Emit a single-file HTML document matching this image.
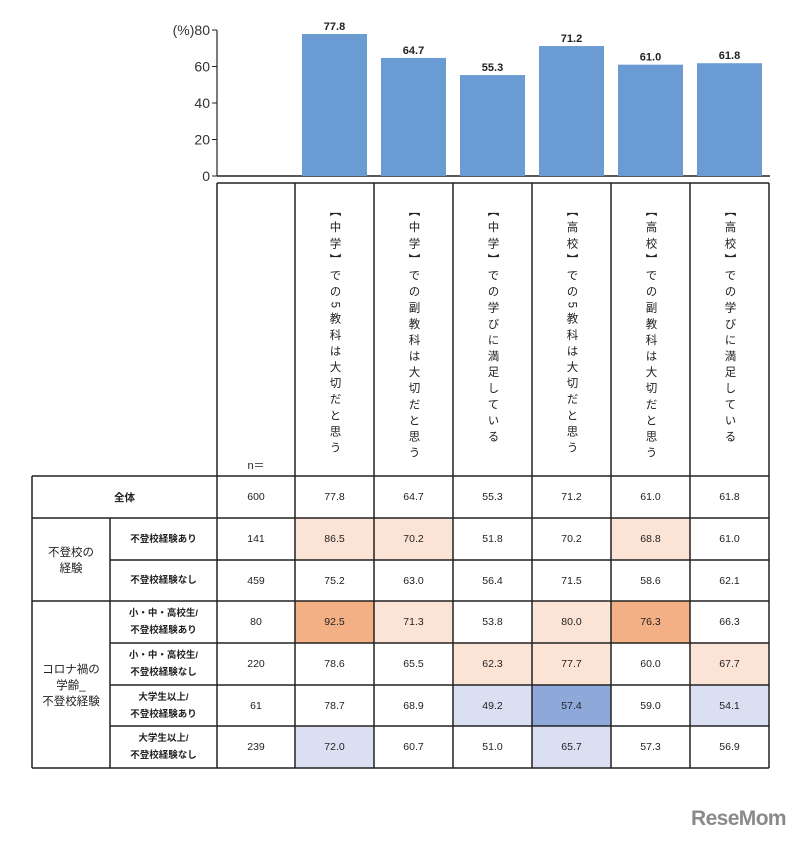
<!DOCTYPE html>
<html><head><meta charset="utf-8">
<style>
body{margin:0;background:#fff;width:800px;height:843px;position:relative;overflow:hidden;font-family:"Liberation Sans","Noto Sans CJK JP",sans-serif;color:#222}
.abs{position:absolute}
.cell{position:absolute;display:flex;align-items:center;justify-content:center;text-align:center;font-size:10.5px;box-sizing:border-box}
.vt{position:absolute;writing-mode:vertical-rl;font-size:11.5px;letter-spacing:4.6px;top:205px;line-height:1}
</style></head><body>
<svg id="chart" class="abs" style="left:0;top:0" width="800" height="200"></svg>
<div id="table" class="abs" style="left:0;top:0;width:800px;height:843px"></div>
<svg class="abs" style="left:0;top:0;pointer-events:none" width="800" height="843" id="grid"></svg>
<div class="abs" style="left:691px;top:807px;font-size:21px;font-weight:bold;color:#8a8a8a;letter-spacing:-0.6px">ReseMom</div>
<script>
const categories=["【中学】での5教科は大切だと思う","【中学】での副教科は大切だと思う","【中学】での学びに満足している","【高校】での5教科は大切だと思う","【高校】での副教科は大切だと思う","【高校】での学びに満足している"];
const barValues=[77.8,64.7,55.3,71.2,61.0,61.8];
const yTicks=[0,20,40,60,80];
const rowLabels=["不登校経験あり","不登校経験なし","小・中・高校生/<br>不登校経験あり","小・中・高校生/<br>不登校経験なし","大学生以上/<br>不登校経験あり","大学生以上/<br>不登校経験なし"];
const nValues=[600,141,459,80,220,61,239];
const tableValues=[
[77.8,64.7,55.3,71.2,61.0,61.8],
[86.5,70.2,51.8,70.2,68.8,61.0],
[75.2,63.0,56.4,71.5,58.6,62.1],
[92.5,71.3,53.8,80.0,76.3,66.3],
[78.6,65.5,62.3,77.7,60.0,67.7],
[78.7,68.9,49.2,57.4,59.0,54.1],
[72.0,60.7,51.0,65.7,57.3,56.9]];
const heat=[
"","","","","","",
"lo","lo","","","lo","",
"","","","","","",
"o","lo","","lo","o","",
"","","lo","lo","","lo",
"","","lb","b","","lb",
"lb","","","lb","",""];
const colors={lo:"#fbe3d6",o:"#f3b084",lb:"#dae0f1",b:"#8ea8da"};
const NS="http://www.w3.org/2000/svg";
const colX=[295,374,453,532,611,690,769];
const y0=176, yScale=146/80;
const yPos=v=>y0-v*yScale;
const svg=document.getElementById('chart');
function mk(tag,attrs,parent){const e=document.createElementNS(NS,tag);for(const k in attrs)e.setAttribute(k,attrs[k]);parent.appendChild(e);return e;}
mk('line',{x1:217,y1:y0,x2:770,y2:y0,stroke:'#222','stroke-width':1.5},svg);
mk('line',{x1:217,y1:y0,x2:217,y2:yPos(80),stroke:'#222','stroke-width':1.2},svg);
yTicks.forEach(t=>{
  const l=mk('line',{x1:212,y1:yPos(t),x2:217,y2:yPos(t),stroke:'#222'},svg);
  
  
  const tx=mk('text',{x:210,y:yPos(t)+5,'text-anchor':'end','font-size':14,fill:'#333'},svg);
  tx.textContent=(t===80?'(%)':'')+t;
  
  
});
barValues.forEach((v,i)=>{
  const x=colX[i]+7, w=65;
  const r=mk('rect',{x:x,y:yPos(v),width:w,height:y0-yPos(v),fill:'#6a9bd2'},svg);
  
  
  const t=mk('text',{x:x+w/2,y:yPos(v)-4,'text-anchor':'middle','font-size':11,fill:'#222','font-weight':'bold'},svg);
  t.textContent=v.toFixed(1);
  
  
});
const tb=document.getElementById('table');
const rowY=[476,518,560,601,643,685,726,768];
function cell(x,y,w,h,html,name,bg){const d=document.createElement('div');d.className='cell';d.style.cssText=`left:${x}px;top:${y}px;width:${w}px;height:${h}px;`+(bg?`background:${bg};`:'');d.innerHTML=html;tb.appendChild(d);return d;}
categories.forEach((c,i)=>{
  const d=document.createElement('div');d.className='vt';d.style.left=(colX[i]+33)+'px';d.textContent=c;
  
  
  tb.appendChild(d);
});
const nh=cell(217,455,78,20,'n＝','n-header');nh.style.fontSize='11px';
cell(32,rowY[0],185,rowY[1]-rowY[0],'<b>全体</b>','row-label-total');
cell(32,rowY[1],78,rowY[3]-rowY[1],'不登校の<br>経験','group-label').style.fontSize='11.5px';
cell(32,rowY[3],78,rowY[7]-rowY[3],'コロナ禍の<br>学齢_<br>不登校経験','group-label').style.fontSize='11.5px';
rowLabels.forEach((l,i)=>{const c=cell(110,rowY[i+1],107,rowY[i+2]-rowY[i+1],'<b>'+l+'</b>','row-label');c.style.fontSize='9.5px';c.style.lineHeight='17px';});
nValues.forEach((n,i)=>cell(217,rowY[i],78,rowY[i+1]-rowY[i],String(n),'n-value'));
tableValues.forEach((row,r)=>row.forEach((v,c)=>{
  const k=heat[r*6+c];
  cell(colX[c],rowY[r],79,rowY[r+1]-rowY[r],v.toFixed(1),'value-cell',k?colors[k]:null);
}));
const g=document.getElementById('grid');
function ln(x1,y1,x2,y2){mk('line',{x1,y1,x2,y2,stroke:'#222','stroke-width':1.5},g);}
ln(217,183,769,183);
[217,...colX].forEach(x=>ln(x,183,x,768));
ln(32,476,32,768);ln(110,518,110,768);
ln(32,476,769,476);ln(32,768,769,768);
[518,601].forEach(y=>ln(32,y,769,y));
[560,643,685,726].forEach(y=>ln(110,y,769,y));
</script>
</body></html>
